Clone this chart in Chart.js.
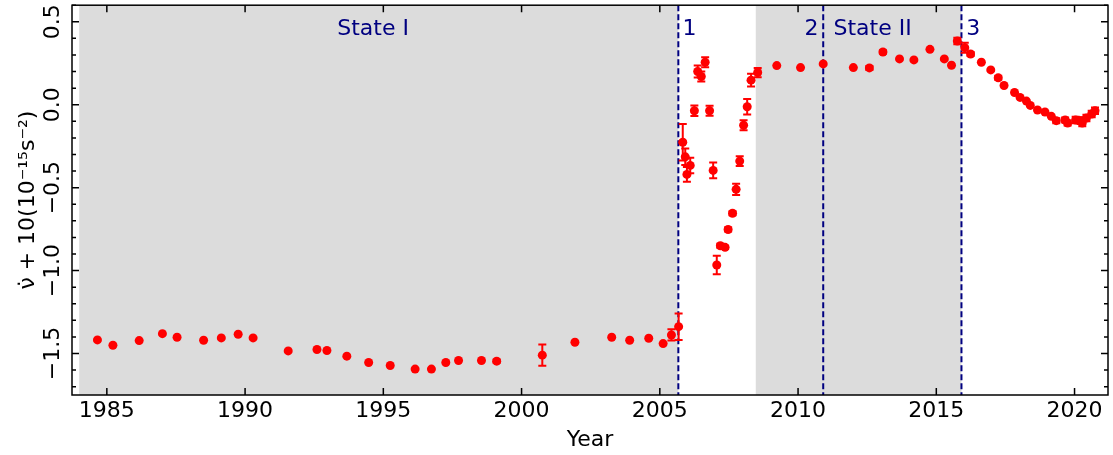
<!DOCTYPE html>
<html>
<head>
<meta charset="utf-8">
<script src="https://cdn.jsdelivr.net/npm/chart.js@4"></script>
<style>
html, body { margin: 0; padding: 0; background: #fff; }
</style>
</head>
<body>
<canvas id="chart" width="1113" height="455"></canvas>
<script>
// observation epochs (year) and nu-dot + 10 (1e-15 s^-2)
const years = [
  1984.66, 1985.22, 1986.17, 1987.01, 1987.54, 1988.50, 1989.14, 1989.75, 1990.29, 1991.56,
  1992.60, 1992.96, 1993.68, 1994.47, 1995.25, 1996.15, 1996.74, 1997.26, 1997.72, 1998.55,
  1999.10, 2000.75, 2001.93, 2003.26, 2003.91, 2004.60, 2005.12, 2005.42, 2005.68,
  2005.83, 2005.92, 2005.98, 2006.10, 2006.25, 2006.37, 2006.50, 2006.64, 2006.80, 2006.93,
  2007.06, 2007.19, 2007.36, 2007.47, 2007.63, 2007.76, 2007.89, 2008.03, 2008.16, 2008.30,
  2008.54, 2009.23, 2010.09, 2010.91, 2012.00, 2012.58, 2013.07, 2013.67, 2014.19, 2014.77,
  2015.29, 2015.55, 2015.76, 2016.03, 2016.24, 2016.63, 2016.97, 2017.24, 2017.45, 2017.83,
  2018.03, 2018.26, 2018.40, 2018.66, 2018.93, 2019.16, 2019.34, 2019.66, 2019.75, 2020.04,
  2020.22, 2020.28, 2020.43, 2020.62, 2020.74
];
const values = [
  -1.418, -1.450, -1.422, -1.380, -1.402, -1.420, -1.406, -1.384, -1.406, -1.484,
  -1.476, -1.482, -1.516, -1.554, -1.572, -1.594, -1.594, -1.554, -1.542, -1.542,
  -1.546, -1.510, -1.432, -1.402, -1.420, -1.408, -1.440, -1.388, -1.338,
  -0.226, -0.314, -0.420, -0.366, -0.036, 0.200, 0.170, 0.256, -0.036, -0.396,
  -0.966, -0.850, -0.860, -0.752, -0.654, -0.510, -0.340, -0.124, -0.012, 0.148,
  0.194, 0.236, 0.224, 0.246, 0.224, 0.222, 0.318, 0.276, 0.270, 0.334,
  0.276, 0.238, 0.384, 0.344, 0.306, 0.256, 0.210, 0.162, 0.116, 0.074,
  0.044, 0.022, -0.004, -0.032, -0.044, -0.070, -0.096, -0.092, -0.110, -0.092,
  -0.096, -0.110, -0.080, -0.056, -0.036
];
const errors = [
  0, 0, 0, 0, 0, 0, 0, 0, 0, 0,
  0, 0, 0, 0, 0, 0, 0, 0, 0, 0,
  0.01, 0.064, 0, 0, 0, 0, 0, 0.034, 0.08,
  0.11, 0.05, 0.045, 0.047, 0.032, 0.036, 0.03, 0.03, 0.03, 0.048,
  0.056, 0.012, 0.01, 0.012, 0.012, 0.034, 0.03, 0.03, 0.047, 0.038,
  0.028, 0, 0, 0, 0, 0.012, 0.01, 0, 0, 0,
  0, 0, 0.02, 0.03, 0.012, 0, 0, 0.012, 0, 0,
  0, 0, 0, 0, 0, 0, 0.015, 0.015, 0.015, 0.02,
  0.02, 0.02, 0.02, 0.02, 0.02
];

const xTicks = [1985, 1990, 1995, 2000, 2005, 2010, 2015, 2020];
const yTicks = [-1.5, -1.0, -0.5, 0.0, 0.5];

// state spans and glitch epochs
const shaded = [[1984.0, 2005.67], [2008.47, 2015.91]];
const glitches = [2005.67, 2010.91, 2015.91];
const notes = [
  { text: 'State I', x: 1994.63, align: 'center' },
  { text: '1', x: 2005.82, align: 'left' },
  { text: '2', x: 2010.74, align: 'right' },
  { text: 'State II', x: 2011.28, align: 'left' },
  { text: '3', x: 2016.08, align: 'left' }
];
const noteY = 0.422;

const navy = '#000080';

const fmtY = v => v.toFixed(1).replace('-', '\u2212');

const decor = {
  id: 'decor',
  beforeDatasetsDraw(chart) {
    const { ctx, chartArea: a, scales: { x, y } } = chart;
    ctx.save();
    ctx.fillStyle = '#dcdcdc';
    shaded.forEach(([s, e]) => {
      const x0 = x.getPixelForValue(s), x1 = x.getPixelForValue(e);
      ctx.fillRect(x0, a.top, x1 - x0, a.bottom - a.top);
    });
    ctx.strokeStyle = navy;
    ctx.lineWidth = 2;
    ctx.setLineDash([6, 3]);
    glitches.forEach(g => {
      const px = x.getPixelForValue(g);
      ctx.beginPath();
      ctx.moveTo(px, a.top);
      ctx.lineTo(px, a.bottom);
      ctx.stroke();
    });
    ctx.setLineDash([]);
    // error bars
    ctx.strokeStyle = '#ff0000';
    ctx.lineWidth = 2;
    years.forEach((yr, i) => {
      if (!errors[i]) return;
      const px = x.getPixelForValue(yr);
      const t = y.getPixelForValue(values[i] + errors[i]);
      const b = y.getPixelForValue(values[i] - errors[i]);
      ctx.beginPath();
      ctx.moveTo(px, t); ctx.lineTo(px, b);
      ctx.moveTo(px - 4, t); ctx.lineTo(px + 4, t);
      ctx.moveTo(px - 4, b); ctx.lineTo(px + 4, b);
      ctx.stroke();
    });
    ctx.restore();
  },
  afterDraw(chart) {
    const { ctx, chartArea: a, scales: { x, y } } = chart;
    ctx.save();
    ctx.strokeStyle = '#000';
    ctx.lineWidth = 1.5;
    ctx.strokeRect(a.left, a.top, a.right - a.left, a.bottom - a.top);
    ctx.beginPath();
    xTicks.forEach(v => {
      const px = x.getPixelForValue(v);
      ctx.moveTo(px, a.bottom); ctx.lineTo(px, a.bottom - 7);
      ctx.moveTo(px, a.top); ctx.lineTo(px, a.top + 7);
    });
    for (let k = -17; k <= 6; k++) {
      const py = y.getPixelForValue(k / 10);
      const len = k % 5 === 0 ? 7 : 4;
      ctx.moveTo(a.left, py); ctx.lineTo(a.left + len, py);
      ctx.moveTo(a.right, py); ctx.lineTo(a.right - len, py);
    }
    ctx.stroke();
    ctx.fillStyle = navy;
    ctx.font = '22px "DejaVu Sans"';
    ctx.textBaseline = 'alphabetic';
    notes.forEach(n => {
      ctx.textAlign = n.align;
      ctx.fillText(n.text, x.getPixelForValue(n.x), y.getPixelForValue(noteY));
    });
    ctx.restore();
  }
};

Chart.defaults.font.family = 'DejaVu Sans';
Chart.defaults.color = '#000';

const ctx = document.getElementById('chart').getContext('2d');
new Chart(ctx, {
  type: 'scatter',
  data: {
    datasets: [{
      data: years.map((yr, i) => ({ x: yr, y: values[i] })),
      pointRadius: 4.5,
      pointHoverRadius: 4.5,
      backgroundColor: '#ff0000',
      borderWidth: 0,
      clip: false
    }]
  },
  options: {
    responsive: false,
    animation: false,
    layout: { padding: { top: 3, right: 5, left: 0, bottom: 0 } },
    plugins: { legend: { display: false }, tooltip: { enabled: false } },
    scales: {
      x: {
        type: 'linear',
        min: 1983.74,
        max: 2021.21,
        grid: { display: false, drawTicks: false },
        border: { display: false },
        afterBuildTicks: s => { s.ticks = xTicks.map(v => ({ value: v })); },
        afterFit: s => { s.height = 60; },
        ticks: { font: { size: 22 }, color: '#000', padding: 3, maxRotation: 0, autoSkip: false,
                 callback: v => String(v) },
        title: { display: true, text: 'Year', font: { size: 22 }, color: '#000',
                 padding: { top: 0, bottom: 2 } }
      },
      y: {
        min: -1.75,
        max: 0.6,
        grid: { display: false, drawTicks: false },
        border: { display: false },
        afterBuildTicks: s => { s.ticks = yTicks.map(v => ({ value: v })); },
        afterFit: s => { s.width = 72; },
        ticks: { font: { size: 22 }, color: '#000', minRotation: 90, maxRotation: 90,
                 crossAlign: 'center', padding: -8, autoSkip: false, callback: v => fmtY(v) },
        title: { display: true, text: 'ν\u0307 + 10(10⁻¹⁵s⁻²)', font: { size: 22 }, color: '#000',
                 padding: { top: 15, bottom: 0 } }
      }
    }
  },
  plugins: [decor]
});
</script>
</body>
</html>
